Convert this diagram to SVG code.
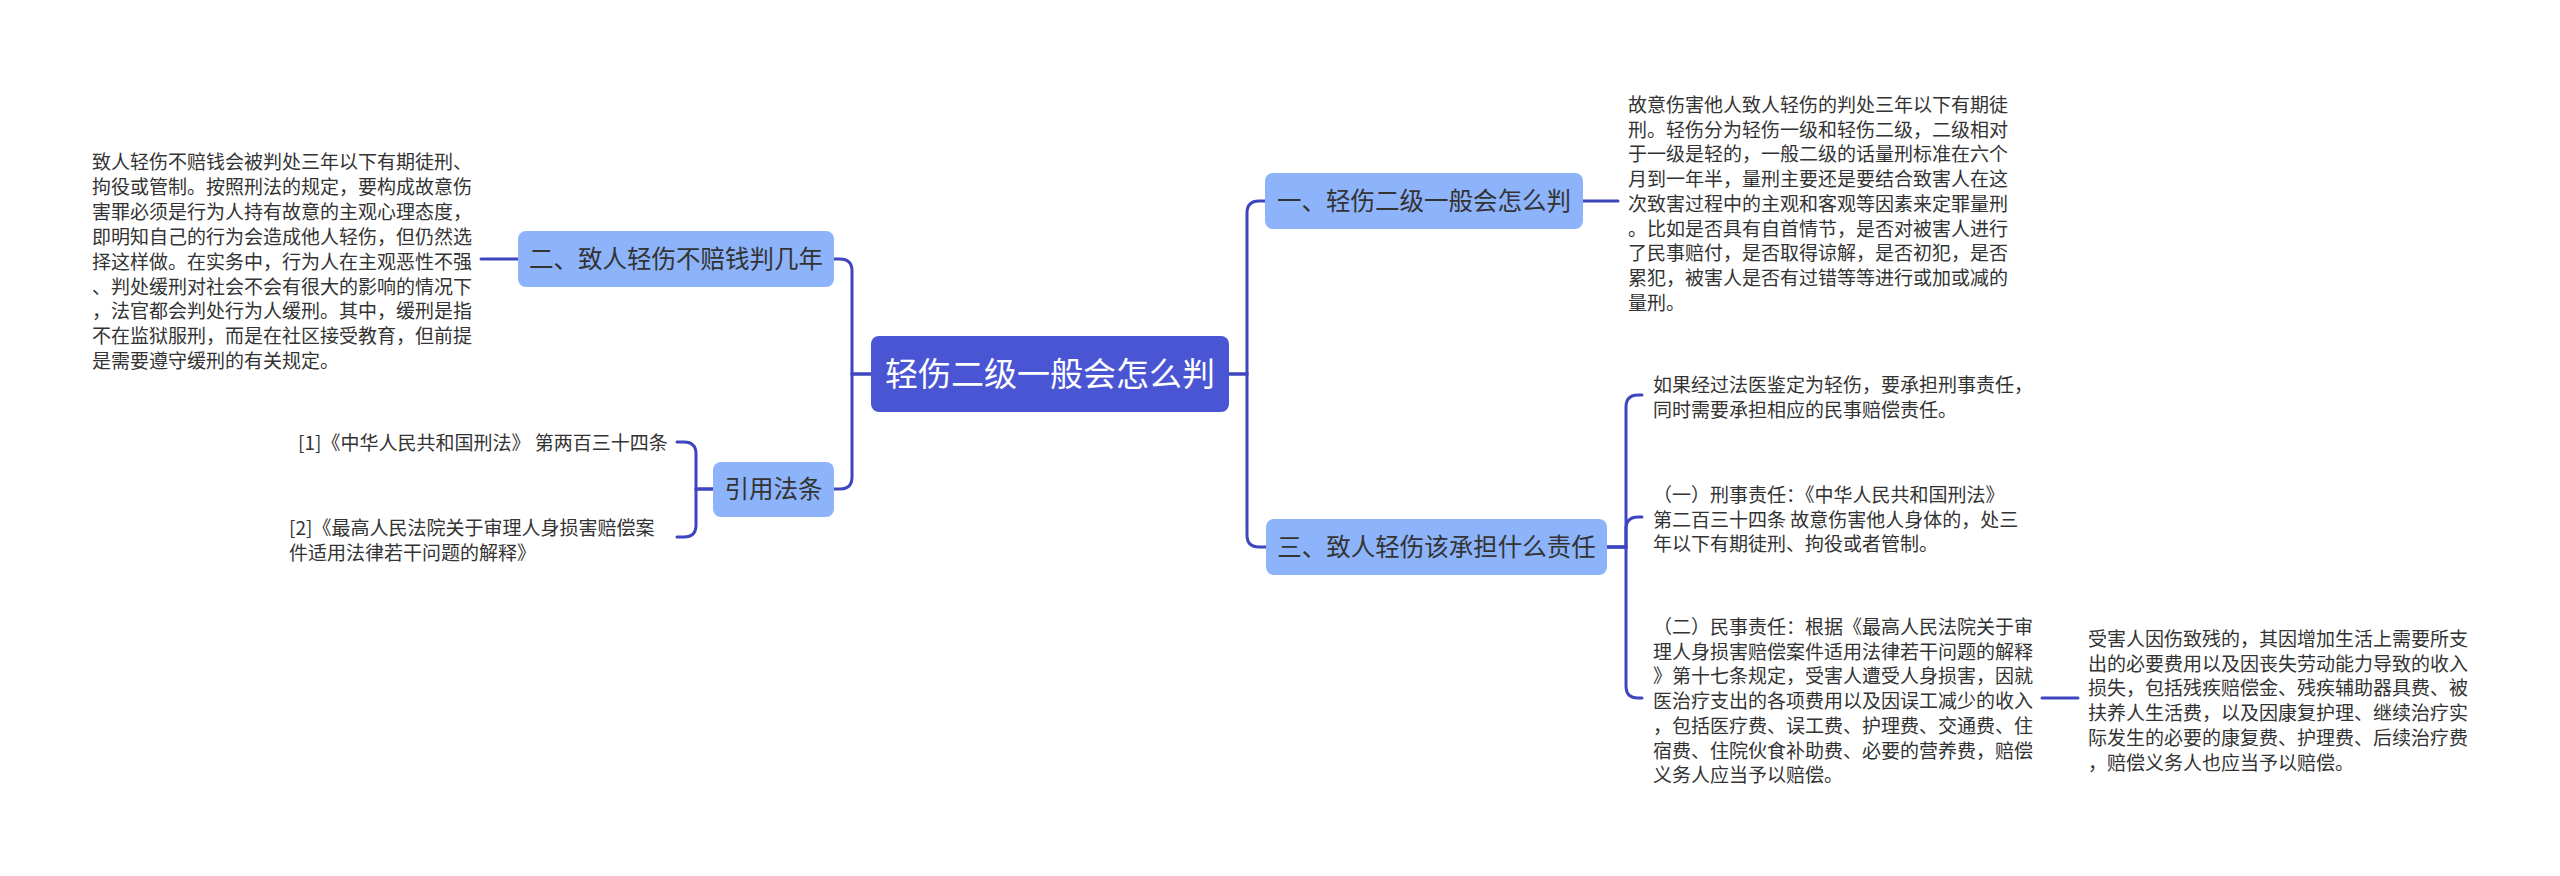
<svg xmlns="http://www.w3.org/2000/svg" width="2560" height="876" viewBox="0 0 2560 876">
<style>
.bg{fill:#ffffff}
.root{fill:#4a55d4}
.node{fill:#8db4fa}
.rt{font-family:"Noto Sans CJK SC","Liberation Sans",sans-serif;font-size:33px;fill:#ffffff;text-anchor:middle}
.nt{font-family:"Noto Sans CJK SC","Liberation Sans",sans-serif;font-size:24.5px;fill:#333333;text-anchor:middle}
.bt{font-family:"Noto Sans CJK SC","Liberation Sans",sans-serif;font-size:19px;fill:#333333}
.ln{fill:none;stroke:#3d46bf;stroke-width:3;stroke-linecap:round}
</style>
<rect class="bg" x="0" y="0" width="2560" height="876"/>
<g id="connectors">
<path class="ln" d="M871,374 H852 V271 Q852,259 840,259 H834"/>
<path class="ln" d="M871,374 H852 V477 Q852,489 840,489 H834"/>
<path class="ln" d="M1229,374 H1247 V213 Q1247,201 1259,201 H1265"/>
<path class="ln" d="M1229,374 H1247 V535 Q1247,547 1259,547 H1266"/>
<path class="ln" d="M518,259 H481"/>
<path class="ln" d="M1583,201 H1618"/>
<path class="ln" d="M713,489 H696 V454 Q696,442 684,442 H677"/>
<path class="ln" d="M713,489 H696 V525 Q696,537 684,537 H677"/>
<path class="ln" d="M1607,547 H1626 V407 Q1626,395 1638,395 H1642"/>
<path class="ln" d="M1607,547 H1626 V529 Q1626,517 1638,517 H1642"/>
<path class="ln" d="M1607,547 H1626 V686 Q1626,698 1638,698 H1642"/>
<path class="ln" d="M2042,698 H2078"/>
</g>
<g id="root">
<rect class="root" x="871" y="336" width="358" height="76" rx="8"/>
<text class="rt" x="1050" y="386">轻伤二级一般会怎么判</text>
</g>
<g id="node1">
<rect class="node" x="1265" y="173" width="318" height="56" rx="8"/>
<text class="nt" x="1424" y="209.5">一、轻伤二级一般会怎么判</text>
</g>
<g id="node1-text">
<text class="bt" x="1628" y="112">
<tspan x="1628" dy="0">故意伤害他人致人轻伤的判处三年以下有期徒</tspan>
<tspan x="1628" dy="24.7">刑。轻伤分为轻伤一级和轻伤二级，二级相对</tspan>
<tspan x="1628" dy="24.7">于一级是轻的，一般二级的话量刑标准在六个</tspan>
<tspan x="1628" dy="24.7">月到一年半，量刑主要还是要结合致害人在这</tspan>
<tspan x="1628" dy="24.7">次致害过程中的主观和客观等因素来定罪量刑</tspan>
<tspan x="1628" dy="24.7">。比如是否具有自首情节，是否对被害人进行</tspan>
<tspan x="1628" dy="24.7">了民事赔付，是否取得谅解，是否初犯，是否</tspan>
<tspan x="1628" dy="24.7">累犯，被害人是否有过错等等进行或加或减的</tspan>
<tspan x="1628" dy="24.7">量刑。</tspan>
</text>
</g>
<g id="node2">
<rect class="node" x="518" y="231" width="316" height="56" rx="8"/>
<text class="nt" x="676" y="267.5">二、致人轻伤不赔钱判几年</text>
</g>
<g id="node2-text">
<text class="bt" x="92" y="169">
<tspan x="92" dy="0">致人轻伤不赔钱会被判处三年以下有期徒刑、</tspan>
<tspan x="92" dy="24.9">拘役或管制。按照刑法的规定，要构成故意伤</tspan>
<tspan x="92" dy="24.9">害罪必须是行为人持有故意的主观心理态度，</tspan>
<tspan x="92" dy="24.9">即明知自己的行为会造成他人轻伤，但仍然选</tspan>
<tspan x="92" dy="24.9">择这样做。在实务中，行为人在主观恶性不强</tspan>
<tspan x="92" dy="24.9">、判处缓刑对社会不会有很大的影响的情况下</tspan>
<tspan x="92" dy="24.9">，法官都会判处行为人缓刑。其中，缓刑是指</tspan>
<tspan x="92" dy="24.9">不在监狱服刑，而是在社区接受教育，但前提</tspan>
<tspan x="92" dy="24.9">是需要遵守缓刑的有关规定。</tspan>
</text>
</g>
<g id="node-cite">
<rect class="node" x="713" y="462" width="121" height="55" rx="8"/>
<text class="nt" x="773.5" y="498">引用法条</text>
</g>
<g id="cite1">
<text class="bt" x="298" y="450">[1]《中华人民共和国刑法》 第两百三十四条</text>
</g>
<g id="cite2">
<text class="bt" x="289" y="535">
<tspan x="289" dy="0">[2]《最高人民法院关于审理人身损害赔偿案</tspan>
<tspan x="289" dy="24.7">件适用法律若干问题的解释》</tspan>
</text>
</g>
<g id="node3">
<rect class="node" x="1266" y="519" width="341" height="56" rx="8"/>
<text class="nt" x="1436.5" y="555.5">三、致人轻伤该承担什么责任</text>
</g>
<g id="node3-child1">
<text class="bt" x="1653" y="392">
<tspan x="1653" dy="0">如果经过法医鉴定为轻伤，要承担刑事责任，</tspan>
<tspan x="1653" dy="24.7">同时需要承担相应的民事赔偿责任。</tspan>
</text>
</g>
<g id="node3-child2">
<text class="bt" x="1653" y="502">
<tspan x="1653" dy="0">（一）刑事责任：《中华人民共和国刑法》</tspan>
<tspan x="1653" dy="24.7">第二百三十四条 故意伤害他人身体的，处三</tspan>
<tspan x="1653" dy="24.7">年以下有期徒刑、拘役或者管制。</tspan>
</text>
</g>
<g id="node3-child3">
<text class="bt" x="1653" y="634">
<tspan x="1653" dy="0">（二）民事责任：根据《最高人民法院关于审</tspan>
<tspan x="1653" dy="24.7">理人身损害赔偿案件适用法律若干问题的解释</tspan>
<tspan x="1653" dy="24.7">》第十七条规定，受害人遭受人身损害，因就</tspan>
<tspan x="1653" dy="24.7">医治疗支出的各项费用以及因误工减少的收入</tspan>
<tspan x="1653" dy="24.7">，包括医疗费、误工费、护理费、交通费、住</tspan>
<tspan x="1653" dy="24.7">宿费、住院伙食补助费、必要的营养费，赔偿</tspan>
<tspan x="1653" dy="24.7">义务人应当予以赔偿。</tspan>
</text>
</g>
<g id="grandchild">
<text class="bt" x="2088" y="646">
<tspan x="2088" dy="0">受害人因伤致残的，其因增加生活上需要所支</tspan>
<tspan x="2088" dy="24.7">出的必要费用以及因丧失劳动能力导致的收入</tspan>
<tspan x="2088" dy="24.7">损失，包括残疾赔偿金、残疾辅助器具费、被</tspan>
<tspan x="2088" dy="24.7">扶养人生活费，以及因康复护理、继续治疗实</tspan>
<tspan x="2088" dy="24.7">际发生的必要的康复费、护理费、后续治疗费</tspan>
<tspan x="2088" dy="24.7">，赔偿义务人也应当予以赔偿。</tspan>
</text>
</g>
</svg>
